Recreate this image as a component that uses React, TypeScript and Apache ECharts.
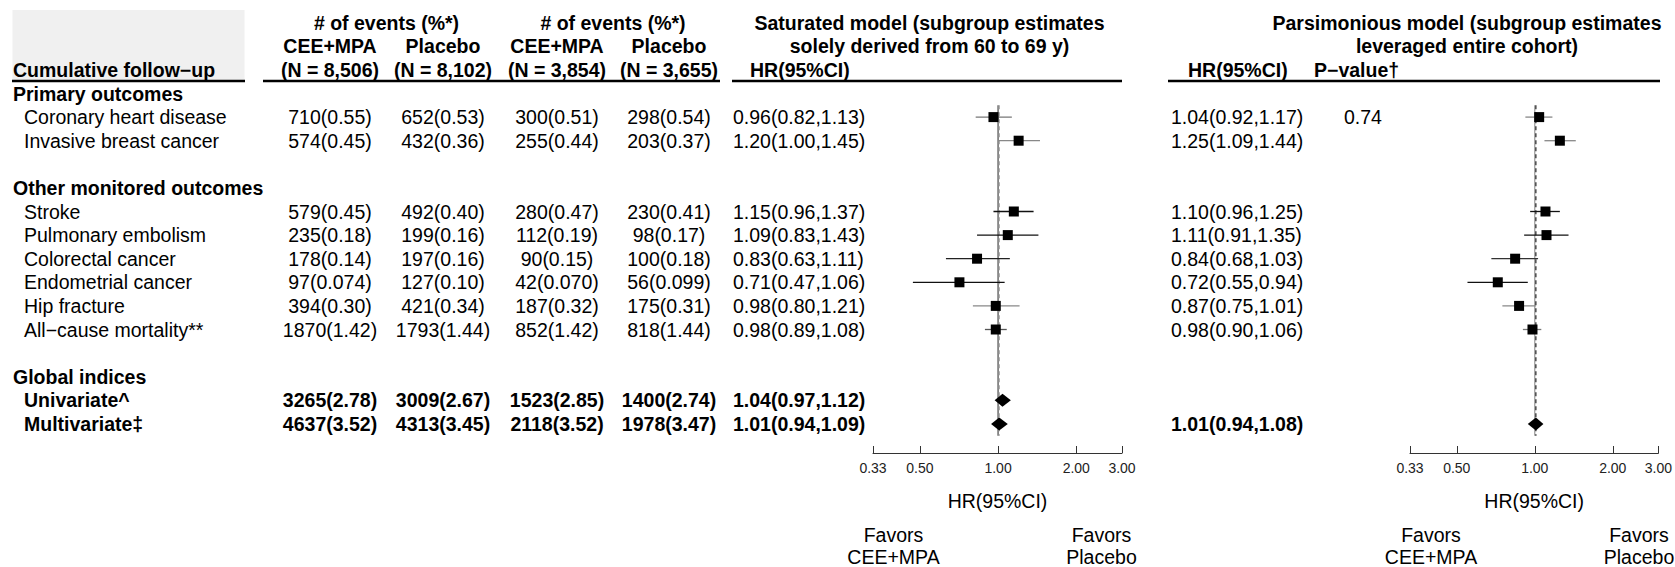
import React, { useEffect, useRef } from "react";
import * as echarts from "echarts";

// ---------------- data ----------------
const groupTitles = ["Primary outcomes", "Other monitored outcomes", "Global indices"];
const groupSizes = [2, 6, 2];
const outcomes = [
  "Coronary heart disease",
  "Invasive breast cancer",
  "Stroke",
  "Pulmonary embolism",
  "Colorectal cancer",
  "Endometrial cancer",
  "Hip fracture",
  "All\u2212cause mortality**",
  "Univariate^",
  "Multivariate\u2021",
];
const ceeAll = ["710(0.55)", "574(0.45)", "579(0.45)", "235(0.18)", "178(0.14)", "97(0.074)", "394(0.30)", "1870(1.42)", "3265(2.78)", "4637(3.52)"];
const plaAll = ["652(0.53)", "432(0.36)", "492(0.40)", "199(0.16)", "197(0.16)", "127(0.10)", "421(0.34)", "1793(1.44)", "3009(2.67)", "4313(3.45)"];
const cee6069 = ["300(0.51)", "255(0.44)", "280(0.47)", "112(0.19)", "90(0.15)", "42(0.070)", "187(0.32)", "852(1.42)", "1523(2.85)", "2118(3.52)"];
const pla6069 = ["298(0.54)", "203(0.37)", "230(0.41)", "98(0.17)", "100(0.18)", "56(0.099)", "175(0.31)", "818(1.44)", "1400(2.74)", "1978(3.47)"];
const satHR = [0.96, 1.2, 1.15, 1.09, 0.83, 0.71, 0.98, 0.98, 1.04, 1.01];
const satLo = [0.82, 1.0, 0.96, 0.83, 0.63, 0.47, 0.8, 0.89, 0.97, 0.94];
const satHi = [1.13, 1.45, 1.37, 1.43, 1.11, 1.06, 1.21, 1.08, 1.12, 1.09];
const parHR = [1.04, 1.25, 1.1, 1.11, 0.84, 0.72, 0.87, 0.98, null, 1.01];
const parLo = [0.92, 1.09, 0.96, 0.91, 0.68, 0.55, 0.75, 0.9, null, 0.94];
const parHi = [1.17, 1.44, 1.25, 1.35, 1.03, 0.94, 1.01, 1.06, null, 1.08];
const parP = ["0.74", "", "", "", "", "", "", "", "", ""];
const hrTicks = [0.33, 0.5, 1, 2, 3];
const eventsHeader = "# of events (%*)";
const armHeaders = ["CEE+MPA", "Placebo", "CEE+MPA", "Placebo"];
const armNs = ["(N = 8,506)", "(N = 8,102)", "(N = 3,854)", "(N = 3,655)"];
const satTitle = ["Saturated model (subgroup estimates", "solely derived from 60 to 69 y)"];
const parTitle = ["Parsimonious model (subgroup estimates", "leveraged entire cohort)"];

// ---------------- styles / layout ----------------
const satCiColor = ["#777", "#888", "#111", "#111", "#222", "#111", "#888", "#555"];
const parCiColor = ["#888", "#888", "#111", "#111", "#333", "#111", "#888", "#777"];
const FONT = '"Liberation Sans", Arial, Helvetica, sans-serif';
const NARROW = '"Liberation Sans Narrow", "Arial Narrow", "Liberation Sans", Arial, sans-serif';
const FS = 19.5;
const W = 1675;
const H = 567;
const ROW0 = 93.5;
const ROWH = 23.6;
const YMIN = -3.5;
const YMAX = 14.5;
const GRID_TOP = ROW0 + YMIN * ROWH;
const GRID_H = (YMAX - YMIN) * ROWH;
const AXIS_Y = 453;
const F1 = { left: 873, width: 249 };
const F2 = { left: 1410, width: 250 };
const COL = [330, 443, 557, 669];
const X_GROUP = 13;
const X_ITEM = 24;
const X_HR1 = 733;
const X_HR2 = 1171;
const X_P = 1344;

// rows
const itemRow: number[] = [];
const itemGroup: number[] = [];
const groupRow: number[] = [];
{
  let r = 0;
  groupSizes.forEach((n, g) => {
    groupRow.push(r);
    r++;
    for (let i = 0; i < n; i++) {
      itemRow.push(r);
      itemGroup.push(g);
      r++;
    }
    r++;
  });
}
const isSummary = itemGroup.map((g) => g === 2);
const fmtHR = (h: number, l: number, u: number) => `${h.toFixed(2)}(${l.toFixed(2)},${u.toFixed(2)})`;

type Cell = { x: number; row: number; text: string; align: string; bold: boolean };

function buildCells(): Cell[] {
  const cells: Cell[] = [];
  // headers
  cells.push({ x: (COL[0] + COL[1]) / 2, row: -3, text: eventsHeader, align: "center", bold: true });
  cells.push({ x: (COL[2] + COL[3]) / 2, row: -3, text: eventsHeader, align: "center", bold: true });
  armHeaders.forEach((t, i) => cells.push({ x: COL[i], row: -2, text: t, align: "center", bold: true }));
  armNs.forEach((t, i) => cells.push({ x: COL[i], row: -1, text: t, align: "center", bold: true }));
  cells.push({ x: X_GROUP, row: -1, text: "Cumulative follow\u2212up", align: "left", bold: true });
  const satC = F1.left + F1.width / 2 - 68;
  cells.push({ x: satC, row: -3, text: satTitle[0], align: "center", bold: true });
  cells.push({ x: satC, row: -2, text: satTitle[1], align: "center", bold: true });
  cells.push({ x: X_HR1 + 17, row: -1, text: "HR(95%CI)", align: "left", bold: true });
  const parC = 1467;
  cells.push({ x: parC, row: -3, text: parTitle[0], align: "center", bold: true });
  cells.push({ x: parC, row: -2, text: parTitle[1], align: "center", bold: true });
  cells.push({ x: X_HR2 + 17, row: -1, text: "HR(95%CI)", align: "left", bold: true });
  cells.push({ x: X_P - 30, row: -1, text: "P\u2212value\u2020", align: "left", bold: true });
  // group titles
  groupTitles.forEach((t, g) => cells.push({ x: X_GROUP, row: groupRow[g], text: t, align: "left", bold: true }));
  // items
  outcomes.forEach((t, i) => {
    const row = itemRow[i];
    const b = isSummary[i];
    cells.push({ x: X_ITEM, row, text: t, align: "left", bold: b });
    cells.push({ x: COL[0], row, text: ceeAll[i], align: "center", bold: b });
    cells.push({ x: COL[1], row, text: plaAll[i], align: "center", bold: b });
    cells.push({ x: COL[2], row, text: cee6069[i], align: "center", bold: b });
    cells.push({ x: COL[3], row, text: pla6069[i], align: "center", bold: b });
    cells.push({ x: X_HR1, row, text: fmtHR(satHR[i], satLo[i], satHi[i]), align: "left", bold: b });
    const ph = parHR[i];
    if (ph != null) {
      cells.push({ x: X_HR2, row, text: fmtHR(ph, parLo[i] as number, parHi[i] as number), align: "left", bold: b });
    }
    if (parP[i]) cells.push({ x: X_P, row, text: parP[i], align: "left", bold: b });
  });
  return cells;
}

function forestData(hr: (number | null)[], lo: (number | null)[], hi: (number | null)[]) {
  const out: number[][] = [];
  hr.forEach((h, i) => {
    if (h == null) return;
    out.push([Math.log(lo[i] as number), Math.log(hi[i] as number), Math.log(h), itemRow[i], isSummary[i] ? 1 : 0, i]);
  });
  return out;
}

function forestSeries(idx: number, data: number[][], colors: string[]) {
  return {
    type: "custom",
    xAxisIndex: idx,
    yAxisIndex: idx,
    encode: { x: [0, 1, 2], y: 3 },
    data,
    z: 5,
    renderItem: (params: any, api: any) => {
      const row = api.value(3);
      const lo = api.coord([api.value(0), row]);
      const hi = api.coord([api.value(1), row]);
      const c = api.coord([api.value(2), row]);
      if (api.value(4) === 1) {
        return {
          type: "polygon",
          shape: { points: [[lo[0], c[1]], [c[0], c[1] - 6.5], [hi[0], c[1]], [c[0], c[1] + 6.5]] },
          style: { fill: "#000" },
        };
      }
      const k = api.value(5);
      return {
        type: "group",
        children: [
          { type: "line", shape: { x1: lo[0], y1: c[1], x2: hi[0], y2: c[1] }, style: { stroke: colors[k], lineWidth: 1.3 } },
          { type: "rect", shape: { x: c[0] - 5, y: c[1] - 5, width: 10, height: 10 }, style: { fill: "#000" } },
        ],
      };
    },
  };
}

function refSeries(idx: number, value: number, color: string, dashed: boolean) {
  return {
    type: "custom",
    xAxisIndex: idx,
    yAxisIndex: idx,
    encode: { x: 0, y: [1, 2] },
    data: [[Math.log(value), 0.5, 14.5]],
    z: 2,
    renderItem: (params: any, api: any) => {
      const a = api.coord([api.value(0), api.value(1)]);
      const b = api.coord([api.value(0), api.value(2)]);
      return {
        type: "line",
        shape: { x1: a[0], y1: a[1], x2: b[0], y2: b[1] },
        style: { stroke: color, lineWidth: 1.2, lineDash: dashed ? [4, 3] : null },
      };
    },
  };
}

function forestAxis(gridIndex: number) {
  return {
    type: "value",
    gridIndex,
    min: Math.log(hrTicks[0]),
    max: Math.log(hrTicks[hrTicks.length - 1]),
    offset: AXIS_Y - (GRID_TOP + GRID_H),
    name: "HR(95%CI)",
    nameLocation: "middle",
    nameGap: 38,
    nameTextStyle: { fontSize: FS, fontFamily: FONT, color: "#000" },
    axisLine: { show: true, onZero: false, lineStyle: { color: "#333", width: 1 } },
    axisTick: { show: true, inside: true, length: 7, lineStyle: { color: "#333", width: 1 }, customValues: hrTicks.map((t) => Math.log(t)) },
    axisLabel: {
      show: true,
      margin: 8,
      fontSize: 14,
      fontFamily: NARROW,
      color: "#222",
      customValues: hrTicks.map((t) => Math.log(t)),
      formatter: (v: number) => Math.exp(v).toFixed(2),
    },
    splitLine: { show: false },
  };
}

function hiddenY(gridIndex: number) {
  return { type: "value", gridIndex, min: YMIN, max: YMAX, inverse: true, show: false };
}

function favors(f: { left: number; width: number }) {
  const mid = f.left + f.width / 2;
  const style = { fontSize: FS, fontFamily: FONT, fill: "#000", align: "center", verticalAlign: "top", lineHeight: 22 };
  return [
    { type: "text", x: mid - 104, y: 524, style: { ...style, text: "Favors\nCEE+MPA" } },
    { type: "text", x: mid + 104, y: 524, style: { ...style, text: "Favors\nPlacebo" } },
  ];
}

export default function App() {
  const ref = useRef<HTMLDivElement>(null);
  useEffect(() => {
    if (!ref.current) return;
    const chart = echarts.init(ref.current, undefined, { renderer: "svg" });
    const cells = buildCells();
    const underline = (x1: number, x2: number) => ({
      type: "line",
      shape: { x1, y1: 81, x2, y2: 81 },
      style: { stroke: "#000", lineWidth: 2.5 },
      z: 10,
    });
    const option: any = {
      animation: false,
      backgroundColor: "#fff",
      grid: [
        { left: 0, width: W, top: GRID_TOP, height: GRID_H },
        { left: F1.left, width: F1.width, top: GRID_TOP, height: GRID_H },
        { left: F2.left, width: F2.width, top: GRID_TOP, height: GRID_H },
      ],
      xAxis: [{ type: "value", gridIndex: 0, min: 0, max: W, show: false }, forestAxis(1), forestAxis(2)],
      yAxis: [hiddenY(0), hiddenY(1), hiddenY(2)],
      graphic: [
        { type: "rect", shape: { x: 12.5, y: 10, width: 232, height: 71 }, style: { fill: "#f0f0f0" }, z: -10 },
        underline(12, 245),
        underline(263, 720),
        underline(732, F1.left + F1.width),
        underline(1168, F2.left + F2.width),
        ...favors(F1),
        ...favors(F2),
      ],
      series: [
        {
          type: "custom",
          xAxisIndex: 0,
          yAxisIndex: 0,
          data: cells.map((c) => [c.x, c.row]),
          z: 8,
          renderItem: (params: any, api: any) => {
            const c = cells[params.dataIndex];
            const p = api.coord([c.x, c.row]);
            return {
              type: "text",
              x: p[0],
              y: p[1],
              style: {
                text: c.text,
                align: c.align,
                verticalAlign: "middle",
                fontSize: FS,
                fontWeight: c.bold ? "bold" : "normal",
                fontFamily: FONT,
                fill: "#000",
              },
            };
          },
        },
        refSeries(1, 1, "#444", false),
        refSeries(1, satHR[9], "#999", true),
        refSeries(2, 1, "#999", false),
        refSeries(2, parHR[9] as number, "#222", true),
        forestSeries(1, forestData(satHR, satLo, satHi), satCiColor),
        forestSeries(2, forestData(parHR, parLo, parHi), parCiColor),
      ],
    };
    chart.setOption(option);
    return () => chart.dispose();
  }, []);
  return <div ref={ref} style={{ position: "absolute", left: 0, top: 0, width: W, height: H }} />;
}
